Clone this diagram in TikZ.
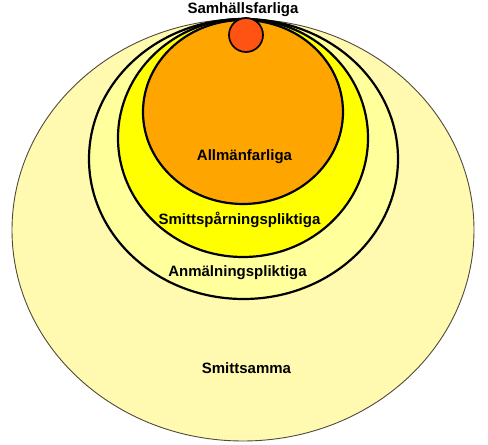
\documentclass[tikz,border=0pt]{standalone}
\usepackage{fontspec}
\setmainfont{Liberation Sans}
\definecolor{paleyellow}{HTML}{FFFAB0}
\definecolor{lightyellow}{HTML}{FFFF9C}
\definecolor{brightyellow}{HTML}{FFFF00}
\definecolor{orangefill}{HTML}{FFA500}
\definecolor{redfill}{HTML}{FF5314}
\tikzset{
  ring/.style={draw=black, line width=2.2pt},
  outerring/.style={draw=black!80!yellow, line width=0.9pt},
  lbl/.style={font=\fontsize{15}{18}\selectfont\bfseries, inner sep=0pt, text=black}
}
\begin{document}
\begin{tikzpicture}[x=1pt,y=1pt]
\useasboundingbox (0,0) rectangle (488,445);
% Smittsamma
\path[fill=paleyellow, outerring] (243,215) ellipse [x radius=231, y radius=211];
% Anmälningspliktiga
\path[fill=lightyellow, ring] (243.5,286) ellipse [x radius=154.5, y radius=140];
% Smittspårningspliktiga
\path[fill=brightyellow, ring] (243,307) ellipse [x radius=125, y radius=119];
% Allmänfarliga
\path[fill=orangefill, ring] (243,333) ellipse [x radius=100, y radius=92];
% Samhällsfarliga
\path[fill=redfill, draw=black, line width=1.7pt] (246,410) circle [radius=17];
\node[lbl] (samh) at (243,435.5) {Samhällsfarliga};
\node[lbl] (allm) at (244.5,288) {Allmänfarliga};
\node[lbl] (smsp) at (239.5,225) {Smittspårningspliktiga};
\node[lbl] (anm) at (237.5,172) {Anmälningspliktiga};
\node[lbl] (smsa) at (246.5,77) {Smittsamma};
\end{tikzpicture}
\end{document}
